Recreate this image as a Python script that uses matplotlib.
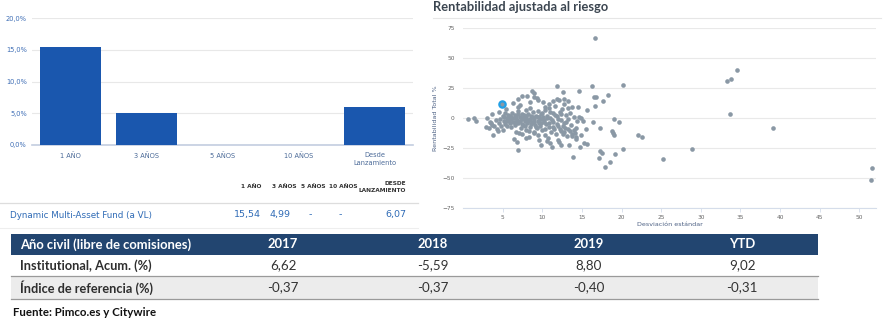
import matplotlib
matplotlib.use("Agg")
import matplotlib.pyplot as plt
from matplotlib.patches import Rectangle

# --- rentabilidad por periodo (barras) ---
periods = ["1 AÑO", "3 AÑOS", "5 AÑOS", "10 AÑOS", "Desde\nLanzamiento"]
fund_returns = [15.54, 4.99, None, None, 6.07]
period_headers = ["1 AÑO", "3 AÑOS", "5 AÑOS", "10 AÑOS", "DESDE\nLANZAMIENTO"]
fund_name = "Dynamic Multi-Asset Fund (a VL)"
fund_cells = ["15,54", "4,99", "-", "-", "6,07"]

# --- rentabilidad ajustada al riesgo (desviación estándar, rentabilidad total %) ---
highlight = (4.9, 12.0)
peer_points = [
    (0.6, -0.5), (1.4, 0.3), (1.6, -2.6), (2.9, -7.3), (3.0, 0.4), (3.3, -8.4), (3.4, -2.9),
    (3.5, -4.0), (3.6, -5.8), (3.7, 3.8), (3.8, -13.8), (3.9, -6.5), (4.1, -1.2), (4.3, -8.9),
    (4.4, -10.6), (4.5, 5.6), (4.6, -3.7), (4.7, -0.4), (4.8, -6.2), (5.0, -9.4), (5.1, 1.8),
    (5.2, -2.2), (5.2, 0.9), (5.3, -4.9), (5.3, 4.5), (5.4, 7.9), (5.5, 0.6), (5.6, -6.8),
    (5.6, -2.4), (5.7, 3.1), (5.8, -1.7), (5.9, -4.0), (5.9, 2.3), (6.0, 1.4), (6.1, -7.6),
    (6.1, -0.7), (6.2, 4.5), (6.3, -2.9), (6.3, 12.6), (6.4, 0.2), (6.4, -17.6), (6.5, -5.2),
    (6.5, -3.3), (6.6, 2.7), (6.7, -11.0), (6.7, 0.9), (6.8, -19.5), (6.8, -1.1), (6.9, 16.0),
    (6.9, 6.1), (6.9, 9.8), (7.0, -26.2), (7.0, -3.6), (7.0, 3.2), (7.1, -12.6), (7.2, 1.0),
    (7.2, -1.9), (7.2, 11.5), (7.3, -7.9), (7.4, 4.0), (7.4, -4.6), (7.5, 18.5), (7.5, -0.9),
    (7.5, -13.4), (7.6, -5.4), (7.6, 0.6), (7.7, 2.5), (7.8, -2.6), (7.8, -6.4), (7.9, -16.5),
    (7.9, 6.8), (8.0, -9.9), (8.0, 0.3), (8.0, 2.0), (8.1, 19.0), (8.1, -4.3), (8.2, 3.7),
    (8.2, -2.0), (8.3, -15.2), (8.3, -1.5), (8.3, -10.6), (8.4, 8.9), (8.4, -0.2), (8.5, 13.9),
    (8.5, -6.9), (8.6, 1.6), (8.6, -4.8), (8.7, -3.1), (8.75, 22.9), (8.8, 4.9), (8.8, 0.9),
    (8.9, 21.2), (8.9, -11.3), (9.0, 17.9), (9.0, -0.4), (9.0, -12.6), (9.0, -2.9), (9.1, -5.6),
    (9.2, 2.2), (9.2, -7.1), (9.3, 17.3), (9.3, -8.1), (9.4, 15.2), (9.4, -13.7), (9.4, 5.8),
    (9.4, 1.5), (9.5, -2.4), (9.6, -18.0), (9.6, 0.8), (9.6, -4.1), (9.7, -6.2), (9.8, -22.4),
    (9.8, 3.2), (9.8, -0.8), (9.9, -3.8), (10.0, -9.7), (10.0, 4.5), (10.1, 13.4), (10.1, 1.1),
    (10.2, -1.2), (10.2, -2.8), (10.3, -14.2), (10.3, 9.1), (10.4, 6.6), (10.4, -8.7),
    (10.5, -5.0), (10.6, -19.3), (10.6, 2.0), (10.6, 0.6), (10.7, -16.6), (10.8, -7.4),
    (10.8, -3.6), (10.9, 8.2), (10.9, 11.6), (11.0, -20.9), (11.0, 0.4), (11.0, 5.5),
    (11.1, -11.6), (11.2, -23.5), (11.2, -1.4), (11.3, 4.6), (11.3, 14.2), (11.4, -3.0),
    (11.4, -6.9), (11.5, -9.0), (11.6, 10.3), (11.6, 2.9), (11.7, -13.4), (11.8, 27.2),
    (11.8, 1.6), (11.8, -4.5), (11.9, 16.4), (12.0, -6.4), (12.0, -17.8), (12.0, -0.6),
    (12.1, 15.1), (12.1, -19.8), (12.2, 5.2), (12.2, -8.7), (12.3, -22.0), (12.3, -10.2),
    (12.4, -1.6), (12.4, 3.5), (12.5, 7.6), (12.6, 21.9), (12.6, -12.9), (12.6, -6.0),
    (12.7, 15.8), (12.7, -4.1), (12.8, 11.9), (12.8, -11.0), (12.9, -8.1), (13.0, 2.4),
    (13.0, -2.8), (13.1, -14.6), (13.2, -0.6), (13.2, -9.1), (13.3, 14.6), (13.3, 8.3),
    (13.4, -22.4), (13.5, -10.4), (13.5, 4.1), (13.6, -5.2), (13.7, 9.2), (13.7, -13.3),
    (13.8, -14.9), (13.9, -32.6), (14.0, 1.4), (14.0, -10.0), (14.1, -12.0), (14.2, -15.4),
    (14.3, -7.7), (14.3, -17.0), (14.4, -2.3), (14.5, 9.3), (14.6, 23.0), (14.6, 1.3),
    (14.8, -23.5), (14.9, 0.6), (14.9, -13.6), (15.2, -2.1), (15.3, -20.3), (15.5, -8.6),
    (15.6, 6.9), (15.7, -21.8), (16.3, 27.1), (16.4, -3.1), (16.5, 17.4), (16.6, 66.7),
    (16.7, 10.3), (16.8, 17.6), (17.1, -33.3), (17.3, -27.2), (17.3, -8.4), (17.5, -28.6),
    (17.6, 14.8), (17.97, -40.4), (18.3, 19.8), (18.6, -36.1), (18.8, -10.4), (18.9, -12.4),
    (19.0, -0.5), (19.1, -14.1), (19.2, -29.6), (19.7, -2.8), (20.2, 28.1), (20.2, -25.5),
    (22.1, -13.6), (22.6, -15.2), (25.2, -33.9), (28.9, -25.6), (33.3, 31.1), (33.7, 3.3),
    (33.8, 32.5), (34.6, 40.0), (39.1, -8.3), (51.5, -51.7), (51.6, -41.1),
]

# --- año civil ---
year_cols = ["2017", "2018", "2019", "YTD"]
row_labels = ["Institutional, Acum. (%)", "Índice de referencia (%)"]
institutional = ["6,62", "-5,59", "8,80", "9,02"]
benchmark = ["-0,37", "-0,37", "-0,40", "-0,31"]

W, H = 893, 327
fig = plt.figure(figsize=(W / 100, H / 100), dpi=100)
fig.patch.set_facecolor("white")

# overlay in pixel coordinates for tables and loose text
ov = fig.add_axes([0, 0, 1, 1])
ov.set_xlim(0, W)
ov.set_ylim(H, 0)
ov.axis("off")

# ---------- bar chart ----------
ax1 = fig.add_axes([32.3 / W, 1 - 145 / H, (413 - 32.3) / W, (145 - 18.3) / H])
bar_blue = "#1a57ae"
xs = range(len(periods))
ax1.bar([x for x, v in zip(xs, fund_returns) if v is not None],
        [v for v in fund_returns if v is not None], width=0.8, color=bar_blue, zorder=3)
ax1.set_xlim(-0.5, 4.5)
ax1.set_ylim(0, 20)
ax1.set_yticks([0, 5, 10, 15, 20])
ax1.set_yticklabels(["0,0%", "5,0%", "10,0%", "15,0%", "20,0%"])
ax1.set_xticks(list(xs))
ax1.set_xticklabels(periods, linespacing=1.4)
ax1.grid(axis="y", color="#e8e8e8", lw=0.8, zorder=0)
for s in ["top", "right", "left"]:
    ax1.spines[s].set_visible(False)
ax1.spines["bottom"].set_color("#c3cde0")
ax1.spines["bottom"].set_linewidth(1.2)
ax1.tick_params(axis="both", length=0, labelsize=4.8, labelcolor="#3d6db5", pad=4)
ax1.tick_params(axis="x", labelcolor="#4b6a98", pad=5)

# small performance table under the bars
hdr_x = [251, 284, 313, 343, 406]
for i, (h, x) in enumerate(zip(period_headers, hdr_x)):
    ov.text(x, 187, h, ha="right" if i == 4 else "center", va="center",
            fontsize=4.2, color="#333333", fontweight="bold", linespacing=1.3)
ov.plot([0, 418], [203, 203], color="#dddddd", lw=0.9)
ov.text(10, 215, fund_name, ha="left", va="center", fontsize=6.3, color="#2f6bb6")
cell_x = [261, 291, 310, 340, 406]
cell_ha = ["right", "right", "center", "center", "right"]
for c, x, ha in zip(fund_cells, cell_x, cell_ha):
    ov.text(x, 215, c, ha=ha, va="center", fontsize=6.8, color="#2f6bb6")
ov.plot([0, 418], [227.5, 227.5], color="#eeeeee", lw=0.8)

# ---------- scatter ----------
ov.text(433, 7, "Rentabilidad ajustada al riesgo", ha="left", va="center",
        fontsize=9.3, fontweight="bold", color="#3b4550", family=["Lato", "DejaVu Sans"])
ov.plot([433, 881], [18, 18], color="#e6e6e6", lw=0.8)

ax2 = fig.add_axes([463 / W, 1 - 208.3 / H, (876 - 463) / W, (208.3 - 28.3) / H])
ax2.set_facecolor("none")
sd = [p[0] for p in peer_points]
ret = [p[1] for p in peer_points]
ax2.scatter([highlight[0]], [highlight[1]], s=38, color="#22a0e6", zorder=2, linewidths=0)
ax2.scatter(sd, ret, s=11, color="#8a98a5", zorder=3, linewidths=0)
ax2.scatter([highlight[0]], [highlight[1]], s=8, color="#8a98a5", zorder=4, linewidths=0)
ax2.set_xlim(0, 52.1)
ax2.set_ylim(-75, 75)
ax2.set_yticks([-75, -50, -25, 0, 25, 50, 75])
ax2.set_xticks([5, 10, 15, 20, 25, 30, 35, 40, 45, 50])
ax2.grid(axis="y", color="#e9e9e9", lw=0.8, zorder=0)
for s in ["top", "right", "left"]:
    ax2.spines[s].set_visible(False)
ax2.spines["bottom"].set_color("#d5ddea")
ax2.spines["bottom"].set_linewidth(0.8)
ax2.tick_params(axis="y", length=0, labelsize=4.2, labelcolor="#666666", pad=6)
ax2.tick_params(axis="x", length=3, width=0.6, color="#d5ddea", labelsize=4.2,
                labelcolor="#666666", pad=1.5)
ax2.set_xlabel("Desviación estándar", fontsize=4.6, color="#4d6184", labelpad=2)
ax2.set_ylabel("Rentabilidad Total %", fontsize=4.6, color="#4d6184", labelpad=3)

# ---------- calendar-year table ----------
tbl_font = ["Lato", "DejaVu Sans"]
navy = "#224570"
ov.add_patch(Rectangle((11, 233.5), 807, 21.5, color=navy, lw=0))
ov.add_patch(Rectangle((11, 276), 807, 22.5, color="#ececec", lw=0))
ov.plot([11, 818], [275.7, 275.7], color="#9a9a9a", lw=0.9)
ov.plot([11, 818], [298.5, 298.5], color="#9a9a9a", lw=0.9)
col_x = [283, 433, 589, 742]
ov.text(20, 244.5, "Año civil (libre de comisiones)", ha="left", va="center",
        fontsize=9.4, color="white", fontweight="bold", family=tbl_font)
for c, x in zip(year_cols, col_x):
    ov.text(x, 244.5, c, ha="center", va="center", fontsize=9.4, color="white",
            fontweight="bold", family=tbl_font)
for r, (label, vals) in enumerate(zip(row_labels, [institutional, benchmark])):
    y = 265.5 + r * 22
    ov.text(20, y, label, ha="left", va="center", fontsize=9.2, color="#2e2e2e",
            fontweight="bold", family=tbl_font)
    for v, x in zip(vals, col_x):
        ov.text(x, y, v, ha="center", va="center", fontsize=9.6, color="#333333",
                family=tbl_font)
ov.text(13, 312, "Fuente: Pimco.es y Citywire", ha="left", va="center", fontsize=8.3,
        fontweight="bold", color="#111111", family=["Lato", "DejaVu Sans"])

fig.savefig("out.png", dpi=100)
